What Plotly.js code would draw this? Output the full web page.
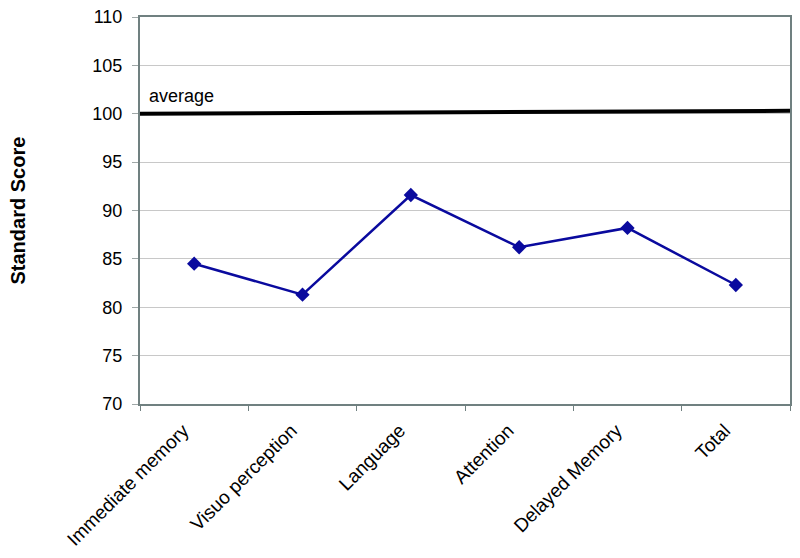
<!DOCTYPE html>
<html>
<head>
<meta charset="utf-8">
<script src="https://cdn.plot.ly/plotly-3.0.1.min.js"></script>
<style>html,body{margin:0;padding:0;background:#fff;}#chart{width:800px;height:558px;}</style>
</head>
<body>
<div id="chart"></div>
<script>
var categories = ["Immediate memory", "Visuo perception", "Language", "Attention", "Delayed Memory", "Total"];
var scores = [84.5, 81.3, 91.6, 86.2, 88.2, 82.3];
var averageEnds = [100, 100.3];
var averageLabel = "average";
var yTitle = "Standard Score";

var traces = [
  {
    x: categories, y: scores, type: "scatter", mode: "lines+markers",
    line: {color: "#0A0A9E", width: 2.5},
    marker: {symbol: "diamond", size: 11, color: "#0A0A9E"},
    hoverinfo: "skip", showlegend: false
  },
  {
    x: [0, 1], y: averageEnds, xaxis: "x2", type: "scatter", mode: "lines",
    line: {color: "#000000", width: 4},
    hoverinfo: "skip", showlegend: false
  }
];

var layout = {
  width: 800, height: 558,
  margin: {l: 140, r: 10, t: 17, b: 154},
  paper_bgcolor: "#ffffff", plot_bgcolor: "#ffffff",
  font: {family: "Liberation Sans, Arial, sans-serif", color: "#000000"},
  showlegend: false,
  xaxis: {
    type: "category", tickangle: -45, tickson: "boundaries",
    ticks: "outside", ticklen: 5, tickcolor: "#708080", tickwidth: 1,
    showgrid: false, zeroline: false,
    showline: true, linecolor: "#708080", linewidth: 2, mirror: true,
    tickfont: {size: 19, color: "#000000"},
    ticklabelshift: -11, ticklabelstandoff: 6,
    range: [-0.5, 5.5]
  },
  xaxis2: {
    overlaying: "x", range: [0, 1], visible: false, showgrid: false, zeroline: false
  },
  yaxis: {
    range: [70, 110], dtick: 5, tick0: 70,
    ticks: "outside", ticklen: 6, tickcolor: "#A0A8A8",
    showgrid: true, gridcolor: "#C8C8C8", gridwidth: 1,
    zeroline: false,
    showline: true, linecolor: "#708080", linewidth: 2, mirror: true,
    tickfont: {size: 18, color: "#000000"},
    ticklabelstandoff: 6
  },
  annotations: [
    {text: averageLabel, xref: "paper", yref: "y", x: 0.011, y: 100.6, xanchor: "left", yanchor: "bottom",
     showarrow: false, font: {size: 18, color: "#000000"}},
    {text: "<b>" + yTitle + "</b>", xref: "paper", yref: "paper", x: (17 - 140) / 650, y: 0.5,
     xanchor: "center", yanchor: "middle", textangle: -90, showarrow: false,
     font: {size: 20, color: "#000000"}}
  ]
};

Plotly.newPlot("chart", traces, layout, {displayModeBar: false, staticPlot: true});
</script>
</body>
</html>
